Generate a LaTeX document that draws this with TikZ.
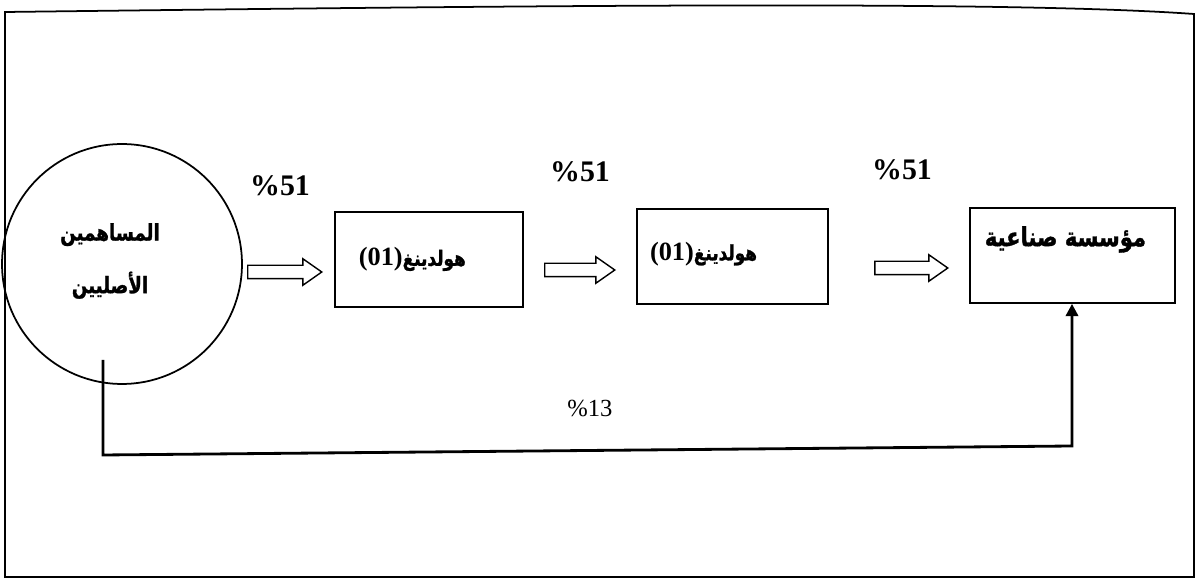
\documentclass[tikz,border=0pt]{standalone}
\usepackage{fontspec}
\setmainfont{Liberation Serif}
\newfontfamily\arabicfont[Script=Arabic, FakeStretch=0.8, BoldFeatures={FakeBold=1.2}]{DejaVu Sans}
\TeXXeTstate=1
\usetikzlibrary{shapes.arrows,arrows.meta}

\begin{document}
\begin{tikzpicture}[x=0.02cm, y=-0.02cm]
	\tikzstyle{holding box} = [draw, line width=1pt, inner sep=0pt, minimum height=1.9cm]
	\tikzstyle{share arrow} = [draw, single arrow, line width=0.8pt, inner xsep=0pt, inner ysep=0.12cm, single arrow head extend=0.13cm, single arrow tip angle=70]
	\tikzstyle{share} = [font=\bfseries\fontsize{17}{20}\selectfont]
	\tikzstyle{ar} = [font=\arabicfont\bfseries\fontsize{13}{16}\selectfont]

	\useasboundingbox (0,0) rectangle (1198,580);
	% outer frame
	\draw[line width=1pt] (5,12) .. controls (500,6) and (1000,0) .. (1194,14) -- (1194,577) -- (5,577) -- cycle;

	% shareholders and holdings
	\node[draw, circle, line width=1pt, inner sep=0pt, minimum size=4.8cm] (owners) at (122,264) {};
	\node[ar, align=center] (owners text) at (110,261) {\beginR المساهمين\endR\\[14pt]\beginR الأصليين\endR};

	\node[holding box, minimum width=3.76cm] (hold1) at (429,259.5) {{\bfseries\fontsize{15}{18}\selectfont (01)}{\arabicfont\bfseries\fontsize{12}{16}\selectfont\beginR هولدينغ\endR}\kern19pt};
	\node[holding box, minimum width=3.82cm, text depth=6pt] (hold2) at (732.5,256.5) {{\bfseries\fontsize{15}{18}\selectfont (01)}{\arabicfont\bfseries\fontsize{12}{16}\selectfont\beginR هولدينغ\endR}\kern33pt};
	\node[holding box, minimum width=4.1cm, text depth=22pt, font=\arabicfont\bfseries\fontsize{15}{18}\selectfont] (firm) at (1072.5,255.5) {\beginR مؤسسة صناعية\endR\kern8pt};

	% 51% chain
	\node[share arrow, minimum height=1.48cm] (a1) at (280,272) {};
	\node[share arrow, minimum height=1.40cm] (a2) at (575,270) {};
	\node[share arrow, minimum height=1.46cm] (a3) at (906.5,268) {};

	\node[share] (s1) at (280,186) {\%51};
	\node[share] (s2) at (580,172) {\%51};
	\node[share] (s3) at (902,170) {\%51};

	% direct 13% stake
	\coordinate (tap) at (103,360);
	\coordinate (down) at (103,455);
	\coordinate (across) at (1072,446);
	\draw[line width=1.6pt, -{Triangle[width=7pt,length=7pt]}] (tap) -- (down) -- (across) -- (across |- firm.south);
	\node[font=\fontsize{14}{16}\selectfont] (s4) at (590,408) {\%13};
\end{tikzpicture}
\end{document}
